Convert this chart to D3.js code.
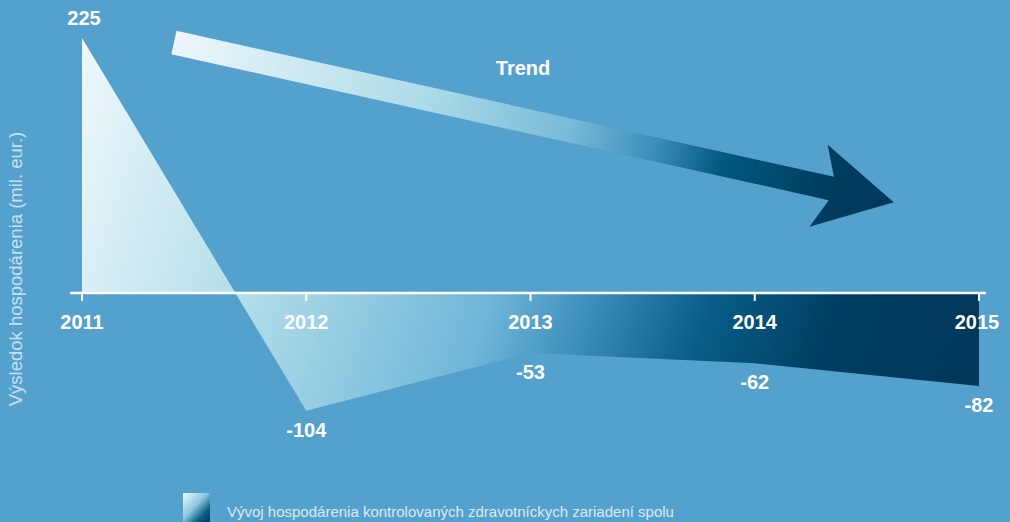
<!DOCTYPE html>
<html>
<head>
<meta charset="utf-8">
<script src="https://cdn.jsdelivr.net/npm/d3@7"></script>
<style>
  html, body { margin: 0; padding: 0; background: #54a1ce; }
  svg { display: block; }
</style>
</head>
<body>
<svg width="1010" height="522"></svg>
<script>
// data
var years = [2011, 2012, 2013, 2014, 2015];
var values = [225, -104, -53, -62, -82];
var yearLabels = ["2011", "2012", "2013", "2014", "2015"];
// trend arrow: start and tip, in data units
var trendYears = [2011.41, 2014.62];
var trendValues = [221, 80];
var legendLabel = "Vývoj hospodárenia kontrolovaných zdravotníckych zariadení spolu";
var yTitle = "Výsledok hospodárenia (mil. eur.)";

var svg = d3.select("svg"),
    width = +svg.attr("width"),
    height = +svg.attr("height");

var x = d3.scaleLinear()
    .domain([2011, 2015])
    .range([82, 979]);

var y = d3.scaleLinear()
    .domain([0, 225])
    .range([293, 38]);

var defs = svg.append("defs");

// area gradient
var areaGrad = defs.append("linearGradient")
    .attr("id", "areaGrad")
    .attr("gradientUnits", "userSpaceOnUse")
    .attr("x1", x(2011)).attr("y1", y(225))
    .attr("x2", x(2015)).attr("y2", y(-40));
[[0, "#f0f8fb"], [0.25, "#b2dde9"], [0.5, "#6fb6d8"], [0.6, "#3c8dbb"], [0.72, "#075d86"], [0.85, "#003e62"], [1, "#00385a"]]
    .forEach(function (s) {
        areaGrad.append("stop").attr("offset", s[0]).attr("stop-color", s[1]);
    });

// arrow gradient
var arrowGrad = defs.append("linearGradient")
    .attr("id", "arrowGrad")
    .attr("gradientUnits", "userSpaceOnUse")
    .attr("x1", x(trendYears[0])).attr("y1", y(trendValues[0]))
    .attr("x2", x(trendYears[1])).attr("y2", y(trendValues[1]));
[[0, "#eef7fb"], [0.35, "#acdbe7"], [0.55, "#78bad9"], [0.67, "#3b8cb8"], [0.76, "#005a80"], [0.9, "#003d60"], [1, "#00385a"]]
    .forEach(function (s) {
        arrowGrad.append("stop").attr("offset", s[0]).attr("stop-color", s[1]);
    });

var legendGrad = defs.append("linearGradient")
    .attr("id", "legendGrad")
    .attr("x1", 0).attr("y1", 0).attr("x2", 1).attr("y2", 1);
[[0, "#f0f8fb"], [0.45, "#8cc8e0"], [0.75, "#0a5e88"], [1, "#00385a"]]
    .forEach(function (s) {
        legendGrad.append("stop").attr("offset", s[0]).attr("stop-color", s[1]);
    });

var data = years.map(function (d, i) {
    return { year: d, value: values[i] };
});

// the area
var area = d3.area()
    .x(function (d) { return x(d.year); })
    .y0(y(0))
    .y1(function (d) { return y(d.value); });

svg.append("path")
    .datum(data)
    .attr("fill", "url(#areaGrad)")
    .attr("d", area);

// trend arrow
var x0 = x(trendYears[0]), y0 = y(trendValues[0]),
    x1 = x(trendYears[1]), y1 = y(trendValues[1]);
var len = Math.hypot(x1 - x0, y1 - y0),
    ux = (x1 - x0) / len, uy = (y1 - y0) / len,
    nx = -uy, ny = ux;
var shaftW = 12, headLen = 77, headW = 42, notch = 13;
function pt(a, b) {
    return [x0 + ux * a + nx * b, y0 + uy * a + ny * b];
}
var arrowPts = [
    pt(0, -shaftW),
    pt(len - headLen + notch, -shaftW),
    pt(len - headLen, -headW),
    pt(len, 0),
    pt(len - headLen, headW),
    pt(len - headLen + notch, shaftW),
    pt(0, shaftW)
];
svg.append("path")
    .attr("fill", "url(#arrowGrad)")
    .attr("d", d3.line()(arrowPts) + "Z");

svg.append("text")
    .attr("x", 523)
    .attr("y", 75)
    .attr("text-anchor", "middle")
    .attr("fill", "#fff")
    .style("font", "bold 20px 'Liberation Sans', Arial, sans-serif")
    .text("Trend");

// x axis
var xAxis = svg.append("g")
    .attr("transform", "translate(0," + y(0) + ")");
xAxis.append("line")
    .attr("x1", 70).attr("x2", 986)
    .attr("stroke", "#fff")
    .attr("stroke-width", 2.5);
xAxis.selectAll(".tick")
    .data(years)
    .enter().append("line")
    .attr("x1", function (d) { return x(d); })
    .attr("x2", function (d) { return x(d); })
    .attr("y1", 0).attr("y2", 8)
    .attr("stroke", "#fff")
    .attr("stroke-width", 2);
xAxis.selectAll(".yl")
    .data(yearLabels)
    .enter().append("text")
    .attr("x", function (d, i) { return i === 4 ? x(years[i]) - 2 : x(years[i]); })
    .attr("y", 36)
    .attr("text-anchor", "middle")
    .attr("fill", "#fff")
    .style("font", "bold 20px 'Liberation Sans', Arial, sans-serif")
    .text(function (d) { return d; });

// value labels
svg.selectAll(".val")
    .data(data)
    .enter().append("text")
    .attr("x", function (d) { return x(d.year) + (d.year === 2011 ? 2 : 0); })
    .attr("y", function (d) { return d.value > 0 ? y(d.value) - 13 : y(d.value) + 26; })
    .attr("text-anchor", "middle")
    .attr("fill", "#fff")
    .style("font", "bold 20px 'Liberation Sans', Arial, sans-serif")
    .text(function (d) { return d.value; });

// y title
svg.append("text")
    .attr("transform", "translate(22,269) rotate(-90)")
    .attr("text-anchor", "middle")
    .attr("fill", "#fff")
    .attr("fill-opacity", 0.7)
    .style("font", "18.5px 'Liberation Sans', Arial, sans-serif")
    .text(yTitle);

// legend
svg.append("rect")
    .attr("x", 183).attr("y", 493)
    .attr("width", 27).attr("height", 29)
    .attr("fill", "url(#legendGrad)");
svg.append("text")
    .attr("x", 227)
    .attr("y", 517)
    .attr("fill", "#fff")
    .attr("fill-opacity", 0.8)
    .style("font", "15px 'Liberation Sans', Arial, sans-serif")
    .text(legendLabel);
</script>
</body>
</html>
